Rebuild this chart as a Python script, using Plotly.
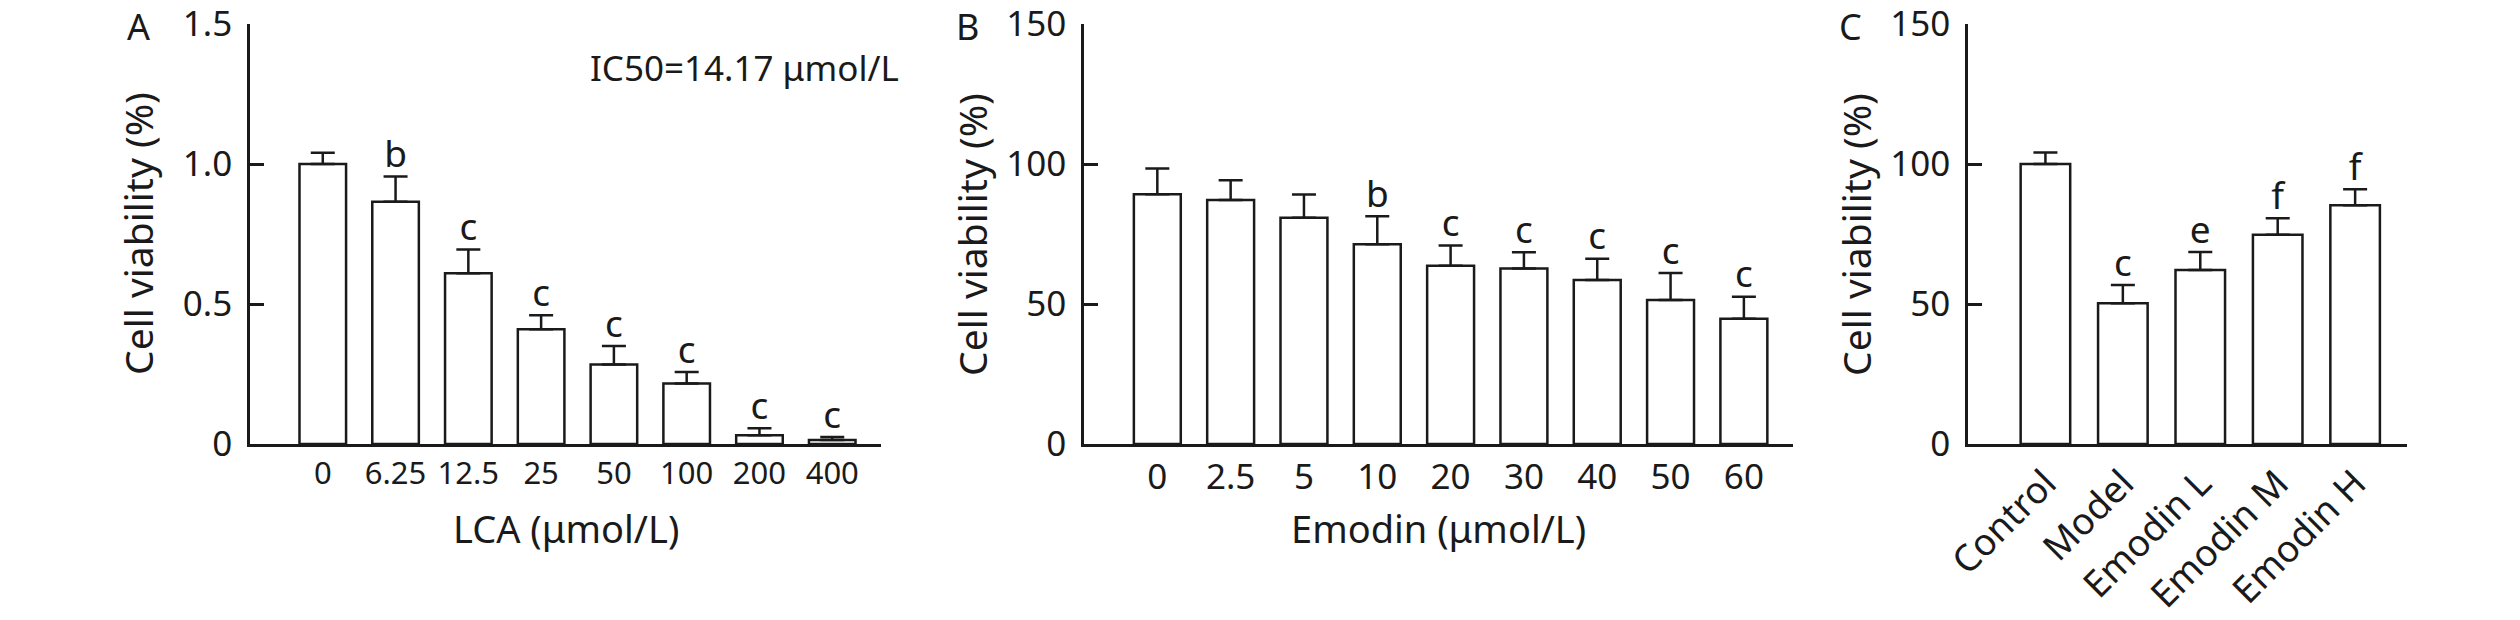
import plotly.graph_objects as go

# ---------------- data ----------------
lca_doses = ["0", "6.25", "12.5", "25", "50", "100", "200", "400"]
lca_viability = [1.00, 0.865, 0.61, 0.41, 0.284, 0.216, 0.031, 0.014]
lca_err = [0.04, 0.09, 0.085, 0.05, 0.066, 0.041, 0.025, 0.011]
lca_sig = ["", "b", "c", "c", "c", "c", "c", "c"]

emodin_doses = ["0", "2.5", "5", "10", "20", "30", "40", "50", "60"]
emodin_viability = [89.2, 87.1, 80.8, 71.3, 63.7, 62.7, 58.6, 51.4, 44.7]
emodin_err = [9.2, 7.1, 8.3, 10.0, 7.2, 5.8, 7.6, 9.7, 7.9]
emodin_sig = ["", "", "", "b", "c", "c", "c", "c", "c"]

groups = ["Control", "Model", "Emodin L", "Emodin M", "Emodin H"]
group_viability = [100.0, 50.3, 62.1, 74.7, 85.3]
group_err = [4.1, 6.5, 6.5, 5.9, 5.7]
group_sig = ["", "c", "e", "f", "f"]

y_ticks_a = [0, 0.5, 1.0, 1.5]
y_ticktext_a = ["0", "0.5", "1.0", "1.5"]
y_ticks_bc = [0, 50, 100, 150]

# ---------------- layout helpers ----------------
W, H = 2520, 620
OFF = 8  # page body margin offset of the plot div
FONT = "Noto Sans"
INK = "#1a1a1a"


def px(x):
    return (x - OFF) / W


def py(y):
    return 1 - (y - OFF) / H


Y_TOP, Y_BOT = 24, 444
panels = [
    dict(name="A", x0=250, x1=881, cats=lca_doses, vals=lca_viability, errs=lca_err,
         sig=lca_sig, yr=[0, 1.5], tv=y_ticks_a, tt=y_ticktext_a,
         xtitle="LCA (μmol/L)", label_x=152, xfs=31),
    dict(name="B", x0=1084, x1=1793, cats=emodin_doses, vals=emodin_viability, errs=emodin_err,
         sig=emodin_sig, yr=[0, 150], tv=y_ticks_bc, tt=[str(v) for v in y_ticks_bc],
         xtitle="Emodin (μmol/L)", label_x=981, xfs=35),
    dict(name="C", x0=1968, x1=2407, cats=groups, vals=group_viability, errs=group_err,
         sig=group_sig, yr=[0, 150], tv=y_ticks_bc, tt=[str(v) for v in y_ticks_bc],
         xtitle=None, label_x=1864, xfs=37),
]

fig = go.Figure()
annotations = []
layout = {}

for i, p in enumerate(panels):
    sfx = "" if i == 0 else str(i + 1)
    xa, ya = "x" + sfx, "y" + sfx
    n = len(p["cats"])
    fig.add_trace(go.Bar(
        x=p["cats"], y=p["vals"], xaxis=xa, yaxis=ya,
        width=0.64,
        marker=dict(color="white", line=dict(color=INK, width=2.5)),
        error_y=dict(type="data", symmetric=False, array=p["errs"],
                     arrayminus=[0] * n, color=INK, thickness=2.5, width=12),
        showlegend=False, hoverinfo="skip",
    ))
    # significance letters above the error caps
    tops = [v + e for v, e in zip(p["vals"], p["errs"])]
    fig.add_trace(go.Scatter(
        x=p["cats"], y=tops, xaxis=xa, yaxis=ya, mode="text",
        text=p["sig"], textposition="top center",
        textfont=dict(family=FONT, size=37, color=INK),
        showlegend=False, hoverinfo="skip", cliponaxis=False,
    ))
    tickangle = -45 if p["name"] == "C" else 0
    layout["xaxis" + sfx] = dict(
        domain=[px(p["x0"]), px(p["x1"])], anchor=ya,
        type="category", range=[-1.0, n - 1 + 0.67],
        showline=True, linecolor=INK, linewidth=2.5, ticks="",
        showgrid=False, zeroline=False, tickangle=tickangle,
        tickfont=dict(family=FONT, size=p["xfs"], color=INK),
        ticklabelstandoff=0, automargin=False, fixedrange=True,
        ticklabeloverflow="allow",
    )
    layout["yaxis" + sfx] = dict(
        domain=[py(Y_BOT), py(Y_TOP)], anchor=xa,
        range=p["yr"], tickvals=p["tv"], ticktext=p["tt"],
        showline=True, linecolor=INK, linewidth=2.5,
        ticks="inside", ticklen=14, tickwidth=2.5, tickcolor=INK,
        showgrid=False, zeroline=False,
        tickfont=dict(family=FONT, size=35, color=INK),
        ticklabelstandoff=8, automargin=False, fixedrange=True,
        ticklabeloverflow="allow",
    )
    # y title
    annotations.append(dict(
        x=px(p["x0"] - 113), y=py((Y_TOP + Y_BOT) / 2), xref="paper", yref="paper",
        text="Cell viability (%)", textangle=-90, showarrow=False,
        xanchor="center", yanchor="middle",
        font=dict(family=FONT, size=39, color=INK)))
    # x title
    if p["xtitle"]:
        annotations.append(dict(
            x=px((p["x0"] + p["x1"]) / 2), y=py(528), xref="paper", yref="paper",
            text=p["xtitle"], showarrow=False, xanchor="center", yanchor="middle",
            font=dict(family=FONT, size=38, color=INK)))
    # panel letter
    annotations.append(dict(
        x=px(p["label_x"]), y=py(26), xref="paper", yref="paper",
        text=p["name"], showarrow=False, xanchor="right", yanchor="middle",
        font=dict(family=FONT, size=36, color=INK)))

annotations.append(dict(
    x=px(588), y=py(67), xref="paper", yref="paper",
    text="IC50=14.17 μmol/L", showarrow=False, xanchor="left", yanchor="middle",
    font=dict(family=FONT, size=35, color=INK)))

fig.update_layout(
    width=W, height=H, autosize=False,
    margin=dict(l=0, r=0, t=0, b=0, pad=0),
    paper_bgcolor="white", plot_bgcolor="white",
    annotations=annotations,
    **layout,
)

fig.write_html("out.html", config={"displayModeBar": False})
